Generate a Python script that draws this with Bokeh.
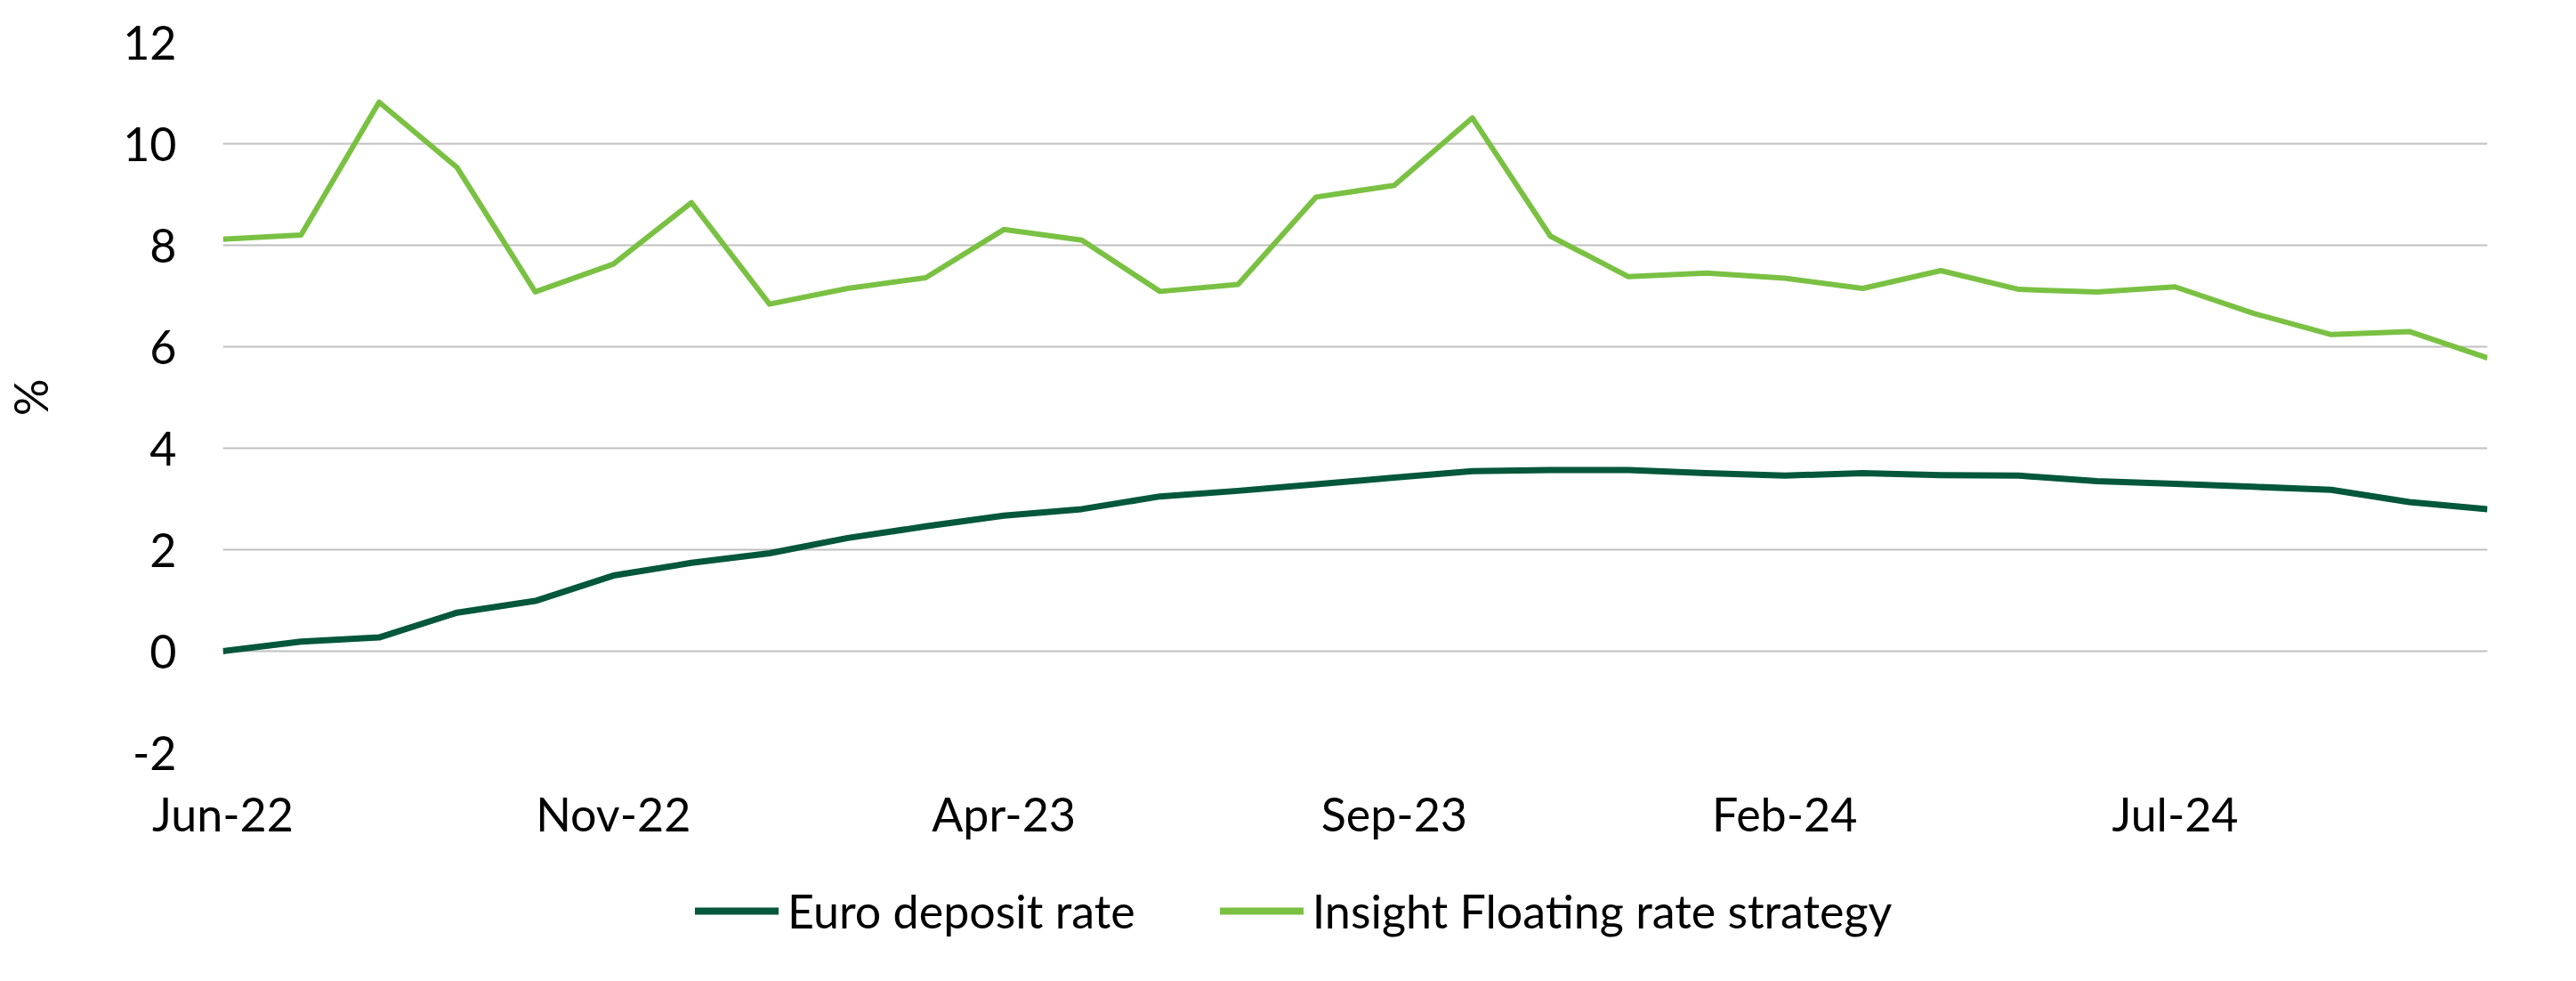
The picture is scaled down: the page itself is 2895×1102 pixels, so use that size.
from bokeh.plotting import figure
from bokeh.layouts import column
from bokeh.models import (ColumnDataSource, Range1d, FixedTicker, Legend, LegendItem)
from bokeh.embed import file_html
from bokeh.resources import INLINE

# ---- data ----
months = ["Jun-22", "Jul-22", "Aug-22", "Sep-22", "Oct-22", "Nov-22", "Dec-22",
          "Jan-23", "Feb-23", "Mar-23", "Apr-23", "May-23", "Jun-23", "Jul-23",
          "Aug-23", "Sep-23", "Oct-23", "Nov-23", "Dec-23", "Jan-24", "Feb-24",
          "Mar-24", "Apr-24", "May-24", "Jun-24", "Jul-24", "Aug-24", "Sep-24",
          "Oct-24", "Nov-24"]
euro_deposit = [0.00, 0.19, 0.27, 0.76, 0.99, 1.49, 1.74, 1.93, 2.23, 2.46,
                2.67, 2.80, 3.05, 3.16, 3.29, 3.42, 3.55, 3.57, 3.57, 3.51,
                3.46, 3.51, 3.47, 3.46, 3.35, 3.30, 3.24, 3.18, 2.94, 2.80]
insight_frs = [8.12, 8.20, 10.82, 9.53, 7.08, 7.63, 8.84, 6.84, 7.15, 7.36,
               8.31, 8.10, 7.09, 7.23, 8.95, 9.18, 10.51, 8.18, 7.38, 7.45,
               7.35, 7.15, 7.50, 7.13, 7.08, 7.18, 6.66, 6.24, 6.30, 5.78]
y_ticks = [-2, 0, 2, 4, 6, 8, 10, 12]
y_tick_labels = ["-2", "0", "2", "4", "6", "8", "10", "12"]
x_tick_step = 5
series_names = ["Euro deposit rate", "Insight Floating rate strategy"]

DARK = "#03573a"
LIGHT = "#7ac143"
FONT = "Lato"
FS = "52px"
TXT = "#000000"
W = 2879
H_CHART = 960
H_LEG = 126

idx = list(range(len(months)))
src = ColumnDataSource(dict(x=idx, euro=euro_deposit, ins=insight_frs, label=months))

p = figure(width=W, height=H_CHART, output_backend="svg", toolbar_location=None,
           x_range=Range1d(0, len(months) - 1), y_range=Range1d(min(y_ticks), max(y_ticks)),
           min_border_left=236, min_border_right=84, min_border_top=47, min_border_bottom=115)
p.outline_line_color = None
p.background_fill_color = "white"
p.border_fill_color = "white"

p.line("x", "euro", source=src, line_color=DARK, line_width=7, line_join="round")
p.line("x", "ins", source=src, line_color=LIGHT, line_width=6, line_join="round")

# axes
xt = [i for i in idx if i % x_tick_step == 0]
p.xaxis.ticker = FixedTicker(ticks=xt)
p.xaxis.major_label_overrides = {i: months[i] for i in xt}
p.yaxis.ticker = FixedTicker(ticks=y_ticks)
p.yaxis.major_label_overrides = dict(zip(y_ticks, y_tick_labels))
for ax in (p.xaxis, p.yaxis):
    ax.axis_line_color = None
    ax.major_tick_line_color = None
    ax.minor_tick_line_color = None
    ax.major_tick_out = 0
    ax.major_tick_in = 0
    ax.major_label_text_font = FONT
    ax.major_label_text_font_size = FS
    ax.major_label_text_color = TXT
p.xaxis.major_label_standoff = 37
p.yaxis.major_label_standoff = 52
p.yaxis.axis_label = "%"
p.yaxis.axis_label_text_font = FONT
p.yaxis.axis_label_text_font_size = FS
p.yaxis.axis_label_text_font_style = "normal"
p.yaxis.axis_label_text_color = TXT
p.yaxis.axis_label_standoff = 70

p.xgrid.grid_line_color = None
p.ygrid.grid_line_color = "#c0c0c0"
p.ygrid.grid_line_width = 2

# ---- legend strip (separate svg figure below the chart; series kept out of view) ----
lg = figure(width=W, height=H_LEG, output_backend="svg", toolbar_location=None,
            x_axis_type=None, y_axis_type=None,
            x_range=Range1d(0, 1), y_range=Range1d(1000, 1001),
            min_border_left=0, min_border_right=0, min_border_top=0, min_border_bottom=0)
lg.outline_line_color = None
lg.grid.grid_line_color = None
lg.background_fill_color = "white"
lg.border_fill_color = "white"
l1 = lg.line("x", "euro", source=src, line_color=DARK, line_width=8, line_cap="round")
l2 = lg.line("x", "ins", source=src, line_color=LIGHT, line_width=8, line_cap="round")

legend = Legend(items=[LegendItem(label=series_names[0], renderers=[l1]),
                       LegendItem(label=series_names[1], renderers=[l2])],
                orientation="horizontal", location=(531, 32),
                padding=0, margin=0, spacing=95, label_standoff=10,
                glyph_width=94, glyph_height=40,
                label_text_font=FONT, label_text_font_size=FS,
                label_text_color=TXT,
                border_line_color=None, background_fill_alpha=0)
lg.add_layout(legend, "center")

layout = column(p, lg, spacing=0)
open("out.html", "w").write(file_html(layout, INLINE))
